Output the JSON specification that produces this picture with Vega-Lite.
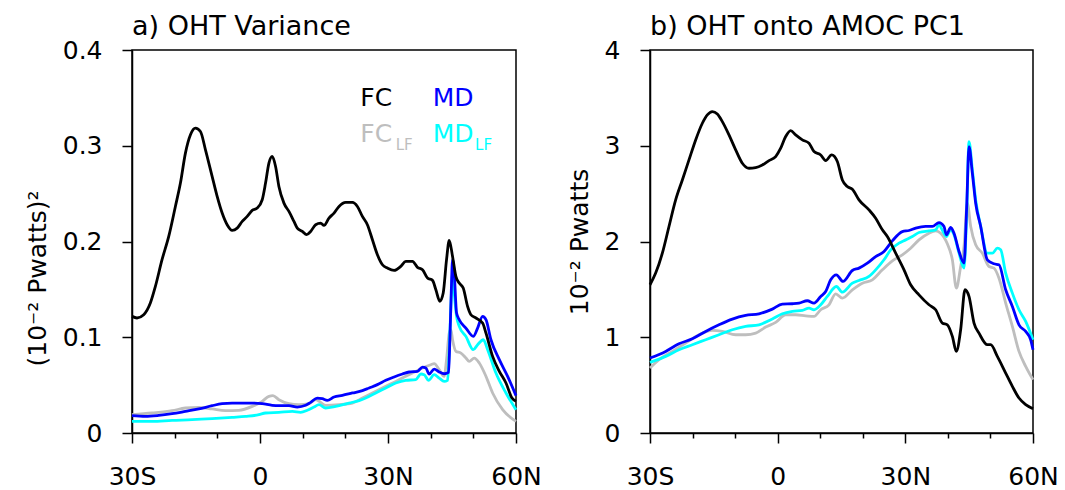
{
"$schema": "https://vega.github.io/schema/vega-lite/v6.json",
"padding": {"left": 24, "top": 12, "right": 5, "bottom": 0},
"spacing": 134,
"bounds": "flush",
"datasets": {
"a": [
{"s":"FC_LF","x":-30,"y":0.0191},{"s":"FC_LF","x":-25.3,"y":0.0209},{"s":"FC_LF","x":-20.61,"y":0.0233},{"s":"FC_LF","x":-17.48,"y":0.0261},{"s":"FC_LF","x":-14.35,"y":0.0268},{"s":"FC_LF","x":-11.22,"y":0.0251},{"s":"FC_LF","x":-8.09,"y":0.0233},{"s":"FC_LF","x":-4.96,"y":0.0237},{"s":"FC_LF","x":-1.83,"y":0.0278},{"s":"FC_LF","x":0.52,"y":0.0331},{"s":"FC_LF","x":2.09,"y":0.0383},{"s":"FC_LF","x":3.03,"y":0.039},{"s":"FC_LF","x":4.43,"y":0.0348},{"s":"FC_LF","x":6.78,"y":0.0306},{"s":"FC_LF","x":9.13,"y":0.0296},{"s":"FC_LF","x":11.48,"y":0.0306},{"s":"FC_LF","x":13.04,"y":0.0348},{"s":"FC_LF","x":13.83,"y":0.0331},{"s":"FC_LF","x":15.39,"y":0.0289},{"s":"FC_LF","x":18.52,"y":0.0296},{"s":"FC_LF","x":21.65,"y":0.0313},{"s":"FC_LF","x":24,"y":0.0365},{"s":"FC_LF","x":26.35,"y":0.0418},{"s":"FC_LF","x":29.48,"y":0.0487},{"s":"FC_LF","x":31.83,"y":0.0539},{"s":"FC_LF","x":34.17,"y":0.0592},{"s":"FC_LF","x":36.52,"y":0.0644},{"s":"FC_LF","x":38.09,"y":0.0679},{"s":"FC_LF","x":40.04,"y":0.0713},{"s":"FC_LF","x":40.83,"y":0.0724},{"s":"FC_LF","x":42,"y":0.0661},{"s":"FC_LF","x":43.17,"y":0.0592},{"s":"FC_LF","x":43.72,"y":0.0766},{"s":"FC_LF","x":44.35,"y":0.1044},{"s":"FC_LF","x":44.74,"y":0.1079},{"s":"FC_LF","x":45.13,"y":0.0974},{"s":"FC_LF","x":45.91,"y":0.0853},{"s":"FC_LF","x":47.09,"y":0.0835},{"s":"FC_LF","x":48.26,"y":0.0783},{"s":"FC_LF","x":49.04,"y":0.0748},{"s":"FC_LF","x":50.22,"y":0.0783},{"s":"FC_LF","x":51.39,"y":0.0731},{"s":"FC_LF","x":52.96,"y":0.0592},{"s":"FC_LF","x":54.52,"y":0.0418},{"s":"FC_LF","x":56.87,"y":0.0244},{"s":"FC_LF","x":60,"y":0.0122},
{"s":"MD_LF","x":-30,"y":0.0122},{"s":"MD_LF","x":-25.3,"y":0.0122},{"s":"MD_LF","x":-20.61,"y":0.0132},{"s":"MD_LF","x":-15.91,"y":0.0139},{"s":"MD_LF","x":-11.22,"y":0.015},{"s":"MD_LF","x":-6.52,"y":0.0164},{"s":"MD_LF","x":-3.39,"y":0.0174},{"s":"MD_LF","x":-0.26,"y":0.0191},{"s":"MD_LF","x":1.3,"y":0.0209},{"s":"MD_LF","x":4.43,"y":0.0216},{"s":"MD_LF","x":7.57,"y":0.0226},{"s":"MD_LF","x":9.52,"y":0.0216},{"s":"MD_LF","x":11.09,"y":0.0237},{"s":"MD_LF","x":12.65,"y":0.0271},{"s":"MD_LF","x":13.83,"y":0.0296},{"s":"MD_LF","x":15.39,"y":0.0261},{"s":"MD_LF","x":17.74,"y":0.0278},{"s":"MD_LF","x":20.87,"y":0.0313},{"s":"MD_LF","x":23.22,"y":0.0338},{"s":"MD_LF","x":24.78,"y":0.0365},{"s":"MD_LF","x":27.13,"y":0.0418},{"s":"MD_LF","x":29.48,"y":0.047},{"s":"MD_LF","x":31.83,"y":0.0522},{"s":"MD_LF","x":34.17,"y":0.055},{"s":"MD_LF","x":36.52,"y":0.0557},{"s":"MD_LF","x":37.7,"y":0.0616},{"s":"MD_LF","x":38.48,"y":0.0609},{"s":"MD_LF","x":39.5,"y":0.055},{"s":"MD_LF","x":40.83,"y":0.0609},{"s":"MD_LF","x":42,"y":0.0574},{"s":"MD_LF","x":43.17,"y":0.0539},{"s":"MD_LF","x":43.96,"y":0.055},{"s":"MD_LF","x":44.35,"y":0.087},{"s":"MD_LF","x":44.74,"y":0.1322},{"s":"MD_LF","x":45.13,"y":0.167},{"s":"MD_LF","x":45.52,"y":0.1462},{"s":"MD_LF","x":46.07,"y":0.1218},{"s":"MD_LF","x":46.7,"y":0.1114},{"s":"MD_LF","x":48.26,"y":0.1009},{"s":"MD_LF","x":49.98,"y":0.087},{"s":"MD_LF","x":51,"y":0.0922},{"s":"MD_LF","x":52.33,"y":0.0974},{"s":"MD_LF","x":53.35,"y":0.087},{"s":"MD_LF","x":55.3,"y":0.0626},{"s":"MD_LF","x":57.65,"y":0.0418},{"s":"MD_LF","x":60,"y":0.0244},
{"s":"MD","x":-30,"y":0.0181},{"s":"MD","x":-26.87,"y":0.0174},{"s":"MD","x":-23.74,"y":0.0184},{"s":"MD","x":-20.61,"y":0.0202},{"s":"MD","x":-17.48,"y":0.0226},{"s":"MD","x":-14.35,"y":0.0251},{"s":"MD","x":-11.22,"y":0.0285},{"s":"MD","x":-8.87,"y":0.0306},{"s":"MD","x":-6.52,"y":0.0313},{"s":"MD","x":-4.17,"y":0.0313},{"s":"MD","x":-1.83,"y":0.0313},{"s":"MD","x":0.52,"y":0.0306},{"s":"MD","x":2.87,"y":0.0289},{"s":"MD","x":4.43,"y":0.0285},{"s":"MD","x":6.78,"y":0.0285},{"s":"MD","x":8.74,"y":0.0271},{"s":"MD","x":10.7,"y":0.0289},{"s":"MD","x":11.87,"y":0.032},{"s":"MD","x":13.43,"y":0.0365},{"s":"MD","x":14.61,"y":0.0358},{"s":"MD","x":15.78,"y":0.0341},{"s":"MD","x":17.35,"y":0.0376},{"s":"MD","x":19.3,"y":0.0393},{"s":"MD","x":21.65,"y":0.0418},{"s":"MD","x":24,"y":0.0442},{"s":"MD","x":25.57,"y":0.047},{"s":"MD","x":27.52,"y":0.0505},{"s":"MD","x":29.48,"y":0.055},{"s":"MD","x":31.43,"y":0.0585},{"s":"MD","x":33.39,"y":0.0616},{"s":"MD","x":34.96,"y":0.0637},{"s":"MD","x":36.91,"y":0.0644},{"s":"MD","x":38.09,"y":0.0689},{"s":"MD","x":38.87,"y":0.0679},{"s":"MD","x":39.65,"y":0.0616},{"s":"MD","x":40.83,"y":0.0668},{"s":"MD","x":42,"y":0.0637},{"s":"MD","x":43.17,"y":0.0619},{"s":"MD","x":44.19,"y":0.0633},{"s":"MD","x":44.5,"y":0.0974},{"s":"MD","x":44.82,"y":0.1462},{"s":"MD","x":45.13,"y":0.181},{"s":"MD","x":45.52,"y":0.167},{"s":"MD","x":46.07,"y":0.1253},{"s":"MD","x":46.7,"y":0.1183},{"s":"MD","x":48.26,"y":0.1096},{"s":"MD","x":49.98,"y":0.1009},{"s":"MD","x":51,"y":0.1096},{"s":"MD","x":52.17,"y":0.1218},{"s":"MD","x":52.96,"y":0.1183},{"s":"MD","x":54.13,"y":0.0974},{"s":"MD","x":56.09,"y":0.0766},{"s":"MD","x":58.04,"y":0.0592},{"s":"MD","x":60,"y":0.039},
{"s":"FC","x":-30,"y":0.1218},{"s":"FC","x":-28.83,"y":0.1201},{"s":"FC","x":-27.26,"y":0.1235},{"s":"FC","x":-25.7,"y":0.1357},{"s":"FC","x":-24.52,"y":0.1531},{"s":"FC","x":-22.96,"y":0.181},{"s":"FC","x":-21.39,"y":0.2053},{"s":"FC","x":-19.83,"y":0.2366},{"s":"FC","x":-18.65,"y":0.261},{"s":"FC","x":-17.48,"y":0.2923},{"s":"FC","x":-16.3,"y":0.3115},{"s":"FC","x":-15.13,"y":0.3184},{"s":"FC","x":-13.96,"y":0.3149},{"s":"FC","x":-12.78,"y":0.2958},{"s":"FC","x":-11.22,"y":0.268},{"s":"FC","x":-10.04,"y":0.2471},{"s":"FC","x":-8.87,"y":0.2297},{"s":"FC","x":-7.7,"y":0.2175},{"s":"FC","x":-6.52,"y":0.2116},{"s":"FC","x":-5.35,"y":0.214},{"s":"FC","x":-4.17,"y":0.221},{"s":"FC","x":-3,"y":0.2262},{"s":"FC","x":-1.83,"y":0.2325},{"s":"FC","x":-0.65,"y":0.2349},{"s":"FC","x":0.52,"y":0.2436},{"s":"FC","x":1.3,"y":0.261},{"s":"FC","x":2.09,"y":0.2819},{"s":"FC","x":2.87,"y":0.2888},{"s":"FC","x":3.65,"y":0.2784},{"s":"FC","x":4.43,"y":0.2575},{"s":"FC","x":5.61,"y":0.2401},{"s":"FC","x":6.78,"y":0.2314},{"s":"FC","x":7.96,"y":0.221},{"s":"FC","x":8.74,"y":0.214},{"s":"FC","x":9.91,"y":0.2105},{"s":"FC","x":10.93,"y":0.2071},{"s":"FC","x":11.87,"y":0.2105},{"s":"FC","x":13.04,"y":0.2175},{"s":"FC","x":14.22,"y":0.2192},{"s":"FC","x":15,"y":0.2168},{"s":"FC","x":16.17,"y":0.2245},{"s":"FC","x":17.35,"y":0.2297},{"s":"FC","x":18.52,"y":0.2366},{"s":"FC","x":20.09,"y":0.2408},{"s":"FC","x":21.65,"y":0.2408},{"s":"FC","x":22.83,"y":0.2366},{"s":"FC","x":24,"y":0.2262},{"s":"FC","x":25.17,"y":0.2175},{"s":"FC","x":26.35,"y":0.2018},{"s":"FC","x":27.52,"y":0.1862},{"s":"FC","x":28.7,"y":0.1757},{"s":"FC","x":29.87,"y":0.1723},{"s":"FC","x":31.43,"y":0.1698},{"s":"FC","x":33,"y":0.174},{"s":"FC","x":34.17,"y":0.1792},{"s":"FC","x":35.74,"y":0.1792},{"s":"FC","x":36.91,"y":0.173},{"s":"FC","x":38.09,"y":0.1705},{"s":"FC","x":39.26,"y":0.1618},{"s":"FC","x":40.43,"y":0.1594},{"s":"FC","x":41.22,"y":0.1496},{"s":"FC","x":42.16,"y":0.1375},{"s":"FC","x":42.94,"y":0.1462},{"s":"FC","x":43.72,"y":0.181},{"s":"FC","x":44.35,"y":0.2011},{"s":"FC","x":45.13,"y":0.1844},{"s":"FC","x":45.91,"y":0.1636},{"s":"FC","x":46.7,"y":0.1566},{"s":"FC","x":47.63,"y":0.1514},{"s":"FC","x":48.65,"y":0.1322},{"s":"FC","x":49.43,"y":0.1235},{"s":"FC","x":50.61,"y":0.1201},{"s":"FC","x":52.17,"y":0.1148},{"s":"FC","x":52.96,"y":0.1044},{"s":"FC","x":54.52,"y":0.08},{"s":"FC","x":56.09,"y":0.0644},{"s":"FC","x":57.65,"y":0.0522},{"s":"FC","x":59.06,"y":0.0365},{"s":"FC","x":60,"y":0.0331}
],
"b": [
{"s":"FC_LF","x":-30,"y":0.678},{"s":"FC_LF","x":-27.89,"y":0.765},{"s":"FC_LF","x":-24.75,"y":0.852},{"s":"FC_LF","x":-21.62,"y":0.939},{"s":"FC_LF","x":-18.49,"y":1.026},{"s":"FC_LF","x":-15.35,"y":1.071},{"s":"FC_LF","x":-13,"y":1.061},{"s":"FC_LF","x":-9.87,"y":1.026},{"s":"FC_LF","x":-7.52,"y":1.026},{"s":"FC_LF","x":-5.17,"y":1.043},{"s":"FC_LF","x":-2.82,"y":1.106},{"s":"FC_LF","x":-0.47,"y":1.155},{"s":"FC_LF","x":1.88,"y":1.235},{"s":"FC_LF","x":4.23,"y":1.235},{"s":"FC_LF","x":6.58,"y":1.224},{"s":"FC_LF","x":8.54,"y":1.217},{"s":"FC_LF","x":10.11,"y":1.287},{"s":"FC_LF","x":12.06,"y":1.339},{"s":"FC_LF","x":13.63,"y":1.454},{"s":"FC_LF","x":15.2,"y":1.409},{"s":"FC_LF","x":17.55,"y":1.496},{"s":"FC_LF","x":19.9,"y":1.565},{"s":"FC_LF","x":22.25,"y":1.6},{"s":"FC_LF","x":24.6,"y":1.704},{"s":"FC_LF","x":26.95,"y":1.798},{"s":"FC_LF","x":29.3,"y":1.861},{"s":"FC_LF","x":31.25,"y":1.93},{"s":"FC_LF","x":33.21,"y":2.017},{"s":"FC_LF","x":35.56,"y":2.087},{"s":"FC_LF","x":37.13,"y":2.111},{"s":"FC_LF","x":38.3,"y":2.087},{"s":"FC_LF","x":39.87,"y":1.976},{"s":"FC_LF","x":41.05,"y":1.809},{"s":"FC_LF","x":41.99,"y":1.513},{"s":"FC_LF","x":43,"y":1.739},{"s":"FC_LF","x":43.79,"y":1.948},{"s":"FC_LF","x":44.57,"y":2.4},{"s":"FC_LF","x":45.36,"y":2.157},{"s":"FC_LF","x":46.53,"y":1.965},{"s":"FC_LF","x":48.1,"y":1.878},{"s":"FC_LF","x":49.66,"y":1.739},{"s":"FC_LF","x":50.84,"y":1.722},{"s":"FC_LF","x":52.01,"y":1.617},{"s":"FC_LF","x":53.58,"y":1.357},{"s":"FC_LF","x":55.15,"y":1.113},{"s":"FC_LF","x":56.71,"y":0.852},{"s":"FC_LF","x":58.28,"y":0.696},{"s":"FC_LF","x":60,"y":0.557},
{"s":"MD_LF","x":-30,"y":0.737},{"s":"MD_LF","x":-26.32,"y":0.8},{"s":"MD_LF","x":-23.19,"y":0.87},{"s":"MD_LF","x":-20.05,"y":0.922},{"s":"MD_LF","x":-16.92,"y":0.974},{"s":"MD_LF","x":-13.79,"y":1.026},{"s":"MD_LF","x":-10.65,"y":1.078},{"s":"MD_LF","x":-7.52,"y":1.113},{"s":"MD_LF","x":-4.39,"y":1.13},{"s":"MD_LF","x":-1.25,"y":1.19},{"s":"MD_LF","x":1.1,"y":1.245},{"s":"MD_LF","x":3.45,"y":1.27},{"s":"MD_LF","x":5.8,"y":1.28},{"s":"MD_LF","x":7.37,"y":1.304},{"s":"MD_LF","x":8.54,"y":1.287},{"s":"MD_LF","x":10.11,"y":1.339},{"s":"MD_LF","x":11.67,"y":1.426},{"s":"MD_LF","x":13.79,"y":1.53},{"s":"MD_LF","x":15.2,"y":1.471},{"s":"MD_LF","x":17.55,"y":1.565},{"s":"MD_LF","x":19.11,"y":1.593},{"s":"MD_LF","x":21.46,"y":1.635},{"s":"MD_LF","x":23.03,"y":1.704},{"s":"MD_LF","x":24.99,"y":1.809},{"s":"MD_LF","x":26.56,"y":1.913},{"s":"MD_LF","x":28.51,"y":1.983},{"s":"MD_LF","x":30.08,"y":2.017},{"s":"MD_LF","x":31.65,"y":2.052},{"s":"MD_LF","x":33.21,"y":2.094},{"s":"MD_LF","x":35.56,"y":2.111},{"s":"MD_LF","x":37.13,"y":2.122},{"s":"MD_LF","x":37.91,"y":2.174},{"s":"MD_LF","x":38.85,"y":2.104},{"s":"MD_LF","x":39.64,"y":2.052},{"s":"MD_LF","x":40.66,"y":2.122},{"s":"MD_LF","x":41.44,"y":2.07},{"s":"MD_LF","x":42.62,"y":1.878},{"s":"MD_LF","x":43.79,"y":1.722},{"s":"MD_LF","x":44.42,"y":2.296},{"s":"MD_LF","x":44.96,"y":3.043},{"s":"MD_LF","x":45.75,"y":2.748},{"s":"MD_LF","x":46.53,"y":2.435},{"s":"MD_LF","x":47.71,"y":2.157},{"s":"MD_LF","x":49.27,"y":1.878},{"s":"MD_LF","x":50.45,"y":1.878},{"s":"MD_LF","x":51.62,"y":1.93},{"s":"MD_LF","x":52.4,"y":1.913},{"s":"MD_LF","x":53.58,"y":1.67},{"s":"MD_LF","x":55.15,"y":1.461},{"s":"MD_LF","x":56.71,"y":1.287},{"s":"MD_LF","x":58.28,"y":1.165},{"s":"MD_LF","x":60,"y":0.974},
{"s":"MD","x":-30,"y":0.783},{"s":"MD","x":-26.32,"y":0.852},{"s":"MD","x":-23.19,"y":0.932},{"s":"MD","x":-20.05,"y":0.984},{"s":"MD","x":-16.92,"y":1.061},{"s":"MD","x":-13.79,"y":1.13},{"s":"MD","x":-10.65,"y":1.19},{"s":"MD","x":-7.52,"y":1.228},{"s":"MD","x":-4.39,"y":1.245},{"s":"MD","x":-1.25,"y":1.294},{"s":"MD","x":1.1,"y":1.346},{"s":"MD","x":3.45,"y":1.35},{"s":"MD","x":5.01,"y":1.357},{"s":"MD","x":6.97,"y":1.381},{"s":"MD","x":8.54,"y":1.357},{"s":"MD","x":10.11,"y":1.426},{"s":"MD","x":11.28,"y":1.478},{"s":"MD","x":12.46,"y":1.6},{"s":"MD","x":13.79,"y":1.652},{"s":"MD","x":15.35,"y":1.583},{"s":"MD","x":17.55,"y":1.697},{"s":"MD","x":19.11,"y":1.722},{"s":"MD","x":21.07,"y":1.774},{"s":"MD","x":23.03,"y":1.843},{"s":"MD","x":24.99,"y":1.896},{"s":"MD","x":26.95,"y":2.007},{"s":"MD","x":29.3,"y":2.104},{"s":"MD","x":30.86,"y":2.115},{"s":"MD","x":32.43,"y":2.139},{"s":"MD","x":34.78,"y":2.157},{"s":"MD","x":36.35,"y":2.157},{"s":"MD","x":37.91,"y":2.198},{"s":"MD","x":39.09,"y":2.157},{"s":"MD","x":39.64,"y":2.07},{"s":"MD","x":40.66,"y":2.146},{"s":"MD","x":41.44,"y":2.087},{"s":"MD","x":42.62,"y":1.896},{"s":"MD","x":43.79,"y":1.774},{"s":"MD","x":44.42,"y":2.365},{"s":"MD","x":44.96,"y":2.991},{"s":"MD","x":45.75,"y":2.713},{"s":"MD","x":46.53,"y":2.4},{"s":"MD","x":47.71,"y":2.157},{"s":"MD","x":49.27,"y":1.809},{"s":"MD","x":50.84,"y":1.767},{"s":"MD","x":52.01,"y":1.757},{"s":"MD","x":53.58,"y":1.496},{"s":"MD","x":55.15,"y":1.322},{"s":"MD","x":56.71,"y":1.13},{"s":"MD","x":58.28,"y":1.061},{"s":"MD","x":59.45,"y":0.974},{"s":"MD","x":60,"y":0.87},
{"s":"FC","x":-30,"y":1.548},{"s":"FC","x":-28.67,"y":1.67},{"s":"FC","x":-27.1,"y":1.878},{"s":"FC","x":-25.54,"y":2.157},{"s":"FC","x":-23.97,"y":2.435},{"s":"FC","x":-22.4,"y":2.643},{"s":"FC","x":-20.84,"y":2.852},{"s":"FC","x":-19.27,"y":3.061},{"s":"FC","x":-17.7,"y":3.235},{"s":"FC","x":-16.53,"y":3.322},{"s":"FC","x":-15.35,"y":3.357},{"s":"FC","x":-14.18,"y":3.332},{"s":"FC","x":-13,"y":3.252},{"s":"FC","x":-11.44,"y":3.113},{"s":"FC","x":-9.87,"y":2.957},{"s":"FC","x":-8.3,"y":2.817},{"s":"FC","x":-6.74,"y":2.765},{"s":"FC","x":-5.17,"y":2.772},{"s":"FC","x":-3.6,"y":2.8},{"s":"FC","x":-2.04,"y":2.845},{"s":"FC","x":-0.47,"y":2.887},{"s":"FC","x":0.71,"y":2.974},{"s":"FC","x":1.88,"y":3.096},{"s":"FC","x":3.06,"y":3.158},{"s":"FC","x":4.23,"y":3.113},{"s":"FC","x":5.8,"y":3.061},{"s":"FC","x":7.37,"y":3.026},{"s":"FC","x":8.54,"y":2.939},{"s":"FC","x":10.11,"y":2.904},{"s":"FC","x":11.28,"y":2.845},{"s":"FC","x":12.69,"y":2.904},{"s":"FC","x":14.02,"y":2.835},{"s":"FC","x":15.2,"y":2.643},{"s":"FC","x":16.37,"y":2.574},{"s":"FC","x":17.55,"y":2.546},{"s":"FC","x":19.11,"y":2.435},{"s":"FC","x":21.46,"y":2.33},{"s":"FC","x":23.03,"y":2.243},{"s":"FC","x":24.6,"y":2.122},{"s":"FC","x":25.77,"y":2.052},{"s":"FC","x":27.73,"y":1.878},{"s":"FC","x":29.69,"y":1.704},{"s":"FC","x":31.25,"y":1.548},{"s":"FC","x":33.21,"y":1.443},{"s":"FC","x":35.56,"y":1.339},{"s":"FC","x":37.13,"y":1.287},{"s":"FC","x":38.7,"y":1.148},{"s":"FC","x":39.87,"y":1.13},{"s":"FC","x":41.05,"y":1.009},{"s":"FC","x":41.99,"y":0.852},{"s":"FC","x":43,"y":1.078},{"s":"FC","x":44.02,"y":1.496},{"s":"FC","x":44.96,"y":1.426},{"s":"FC","x":46.14,"y":1.148},{"s":"FC","x":47.31,"y":1.043},{"s":"FC","x":49.27,"y":0.922},{"s":"FC","x":50.05,"y":0.922},{"s":"FC","x":51.62,"y":0.8},{"s":"FC","x":53.58,"y":0.626},{"s":"FC","x":55.15,"y":0.487},{"s":"FC","x":56.71,"y":0.365},{"s":"FC","x":58.28,"y":0.296},{"s":"FC","x":60,"y":0.254}
]
},
"hconcat": [
{
"width": 384, "height": 383,
"title": {"text": "a) OHT Variance"},
"data": {"name": "a"},
"resolve": {"axis": {"x": "independent"}},
"layer": [
{
"mark": {"type": "line", "strokeWidth": 2.8, "interpolate": "monotone"},
"encoding": {
"x": {"field": "x", "type": "quantitative", "scale": {"domain": [-30, 60], "nice": false, "zero": false},
"axis": {"orient": "bottom", "values": [-30, 0, 30, 60], "title": null, "labelPadding": 21, "labelExpr": "datum.value < 0 ? (-datum.value) + 'S' : (datum.value > 0 ? datum.value + 'N' : '0')"}},
"y": {"field": "y", "type": "quantitative", "scale": {"domain": [0, 0.4], "nice": false},
"axis": {"values": [0, 0.1, 0.2, 0.3, 0.4], "format": "~g", "title": "(10⁻² Pwatts)²", "titlePadding": 12, "titleY": 228}},
"color": {"field": "s", "type": "nominal", "legend": null,
"scale": {"domain": ["FC_LF", "MD_LF", "MD", "FC"], "range": ["#bebebe", "#00ffff", "#0000ff", "#000000"]}}
}
},
{
"data": {"values": [{"x": -30}, {"x": 60}]},
"mark": {"type": "point", "opacity": 0},
"encoding": {
"x": {"field": "x", "type": "quantitative", "axis": {"orient": "bottom", "values": [-20, -10, 10, 20, 40, 50], "tickSize": 5, "labels": false, "domain": false, "title": null}}
}
},
{"data": {"values": [{}]}, "mark": {"type": "text", "text": "FC", "align": "left", "baseline": "alphabetic", "fontSize": 25, "color": "#000000"},
"encoding": {"x": {"datum": 23.5, "axis": null}, "y": {"datum": 0.341}}},
{"data": {"values": [{}]}, "mark": {"type": "text", "text": "MD", "align": "left", "baseline": "alphabetic", "fontSize": 25, "color": "#0000ff"},
"encoding": {"x": {"datum": 40.5, "axis": null}, "y": {"datum": 0.341}}},
{"data": {"values": [{}]}, "mark": {"type": "text", "text": "FC", "align": "left", "baseline": "alphabetic", "fontSize": 25, "color": "#bebebe"},
"encoding": {"x": {"datum": 23.5, "axis": null}, "y": {"datum": 0.304}}},
{"data": {"values": [{}]}, "mark": {"type": "text", "text": "LF", "align": "left", "baseline": "alphabetic", "fontSize": 15, "color": "#bebebe"},
"encoding": {"x": {"datum": 31.8, "axis": null}, "y": {"datum": 0.2956}}},
{"data": {"values": [{}]}, "mark": {"type": "text", "text": "MD", "align": "left", "baseline": "alphabetic", "fontSize": 25, "color": "#00ffff"},
"encoding": {"x": {"datum": 40.5, "axis": null}, "y": {"datum": 0.304}}},
{"data": {"values": [{}]}, "mark": {"type": "text", "text": "LF", "align": "left", "baseline": "alphabetic", "fontSize": 15, "color": "#00ffff"},
"encoding": {"x": {"datum": 50.4, "axis": null}, "y": {"datum": 0.2956}}}
]
},
{
"width": 383, "height": 383,
"title": {"text": "b) OHT onto AMOC PC1"},
"data": {"name": "b"},
"resolve": {"axis": {"x": "independent"}},
"layer": [
{
"mark": {"type": "line", "strokeWidth": 2.8, "interpolate": "monotone"},
"encoding": {
"x": {"field": "x", "type": "quantitative", "scale": {"domain": [-30, 60], "nice": false, "zero": false},
"axis": {"orient": "bottom", "values": [-30, 0, 30, 60], "title": null, "labelPadding": 21, "labelExpr": "datum.value < 0 ? (-datum.value) + 'S' : (datum.value > 0 ? datum.value + 'N' : '0')"}},
"y": {"field": "y", "type": "quantitative", "scale": {"domain": [0, 4], "nice": false},
"axis": {"values": [0, 1, 2, 3, 4], "format": "~g", "title": "10⁻² Pwatts", "titlePadding": 12}},
"color": {"field": "s", "type": "nominal", "legend": null,
"scale": {"domain": ["FC_LF", "MD_LF", "MD", "FC"], "range": ["#bebebe", "#00ffff", "#0000ff", "#000000"]}}
}
},
{
"data": {"values": [{"x": -30}, {"x": 60}]},
"mark": {"type": "point", "opacity": 0},
"encoding": {
"x": {"field": "x", "type": "quantitative", "axis": {"orient": "bottom", "values": [-20, -10, 10, 20, 40, 50], "tickSize": 5, "labels": false, "domain": false, "title": null}}
}
}
]
}
],
"config": {
"font": "DejaVu Sans",
"background": "white",
"view": {"stroke": "black", "strokeWidth": 1.5},
"axis": {"grid": false, "domainColor": "black", "domainWidth": 1.5, "tickColor": "black", "tickWidth": 1.5, "tickSize": 10,
"labelFont": "DejaVu Sans", "labelFontSize": 25, "labelColor": "black", "labelPadding": 20, "labelFlush": false, "labelOverlap": false,
"titleFont": "DejaVu Sans", "titleFontSize": 25, "titleFontWeight": "normal", "titleColor": "black"},
"title": {"font": "DejaVu Sans", "fontSize": 27, "fontWeight": "normal", "anchor": "start", "color": "black", "baseline": "alphabetic", "offset": -3, "frame": "group"}
}
}
